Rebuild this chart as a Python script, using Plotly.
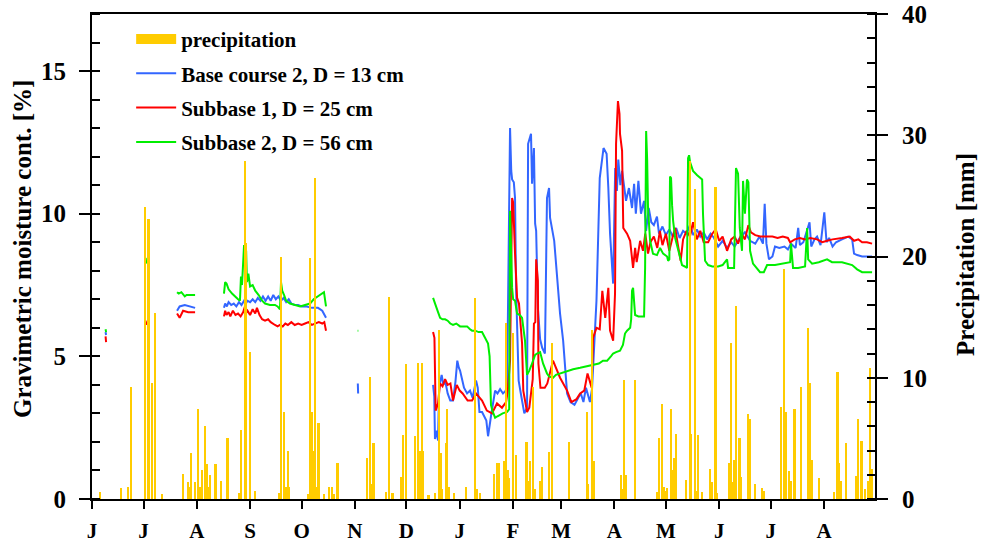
import pandas as pd
import plotly.graph_objects as go

# Record starts on 1 June; all positions below are days since then.
START = pd.Timestamp("2001-06-01")
END_DAY = 455.7

month_days = [0, 30, 61, 92, 122, 153, 183, 214, 245, 273, 304, 334, 365, 395, 426]
month_labels = ["J", "J", "A", "S", "O", "N", "D", "J", "F", "M", "A", "M", "J", "J", "A"]

# Daily precipitation [mm]
precip_day = [5, 17, 21, 23, 31, 33, 35, 37, 41, 53, 56, 57, 58, 60, 62, 63, 64, 66, 67, 68,
              69, 72, 75, 79, 86, 87, 89, 90, 92, 95, 109, 110, 112, 113, 114, 115, 126, 127,
              128, 129, 130, 131, 132, 135, 138, 140, 141, 143, 160, 162, 163, 164, 171, 173,
              175, 180, 181, 183, 188, 190, 191, 192, 193, 196, 200, 202, 203, 204, 206, 207,
              208, 211, 218, 223, 224, 226, 234, 236, 237, 240, 241, 242, 243, 245, 247, 253,
              254, 255, 257, 258, 261, 262, 266, 268, 278, 288, 289, 291, 292, 308, 309, 310,
              311, 316, 329, 330, 332, 333, 334, 335, 337, 338, 339, 340, 346, 348, 349, 351,
              352, 353, 355, 360, 361, 363, 364, 371, 372, 373, 374, 375, 377, 378, 382, 383,
              386, 390, 391, 401, 403, 404, 406, 407, 409, 413, 417, 418, 419, 423, 432, 434,
              435, 436, 439, 445, 446, 448, 450, 452, 453, 454]
precip_mm = [0.6, 0.9, 1.0, 9.2, 24.1, 23.1, 9.6, 15.3, 0.4, 2.1, 1.4, 1.0, 3.8, 1.4, 7.4, 1.0,
             2.4, 6.0, 2.9, 1.0, 2.0, 2.9, 1.5, 5.0, 0.5, 5.7, 27.9, 21.1, 12.1, 0.7, 0.5, 20.0,
             7.2, 1.0, 4.0, 1.0, 0.4, 19.9, 7.2, 4.0, 26.5, 1.0, 6.3, 0.4, 1.0, 1.0, 0.4, 3.0,
             3.4, 10.1, 1.2, 4.6, 0.6, 16.7, 0.5, 1.8, 5.3, 11.1, 5.2, 11.2, 4.0, 11.2, 4.0, 0.3,
             0.5, 13.9, 3.8, 0.8, 4.6, 7.4, 1.0, 0.5, 1.0, 16.6, 0.8, 0.5, 2.1, 3.0, 3.0, 3.1,
             14.5, 2.4, 1.7, 13.7, 3.6, 4.7, 1.5, 3.1, 9.2, 0.8, 1.5, 2.6, 3.9, 12.9, 4.7, 7.2,
             1.2, 13.9, 3.1, 2.0, 0.8, 9.8, 2.0, 9.8, 0.6, 5.0, 7.8, 1.0, 0.7, 0.9, 7.4, 2.4,
             3.4, 5.4, 1.6, 27.9, 5.4, 25.6, 0.7, 5.3, 0.6, 2.5, 1.4, 25.7, 0.5, 3.0, 12.9, 1.4,
             3.2, 15.9, 5.0, 1.8, 7.0, 6.6, 1.2, 0.9, 0.7, 7.6, 19.0, 7.2, 2.3, 1.5, 7.4, 9.2,
             14.1, 9.6, 3.2, 1.7, 0.6, 10.5, 3.0, 1.5, 4.6, 1.9, 6.6, 4.8, 0.8, 1.5, 10.8, 2.5]

# Base course 2, D = 13 cm  (None = no readings)
base2_day = [7.9, 8.2, None, 31.2, 31.6, None, 49.5, 51, 54, 57, 60, None,
             76.8, 77.5, 78.5, 79.5, 81, 82.5, 84, 85.5, 87, 88.5, 89.5, 90.5, 92, 93.5, 95,
             96.5, 98, 99.5, 101, 102.5, 104, 105.5, 107, 108.5, 110, 111.5, 113, 114.5, 116,
             118, 120, 122, 125, 128, 131.5, 134, 136.2, None, 154.7, 154.9, None,
             198.5, 199.2, 199.6, 200.5, 201.4, 202.0, 203.5, 204.5, 205.5, 207, 208.5, 210.1,
             211.5, 212.6, 213.5, 214.2, 216.5, 218.3, 220, 221.5, 223.5, 224.5, 225.5, 227,
             229.5, 230.5, 232.2, 234.6, 236, 237.5, 239.2, 240.8, 241.6, 242.5, 243.3, 244,
             244.5, 245.5, 246.2, 246.8, 247.4, 248.3, 250, 251.6, 253.2, 253.8, 255.5, 256.1,
             257.2, 257.9, 258.5, 259.5, 260.8, 262, 263.6, 264.8, 266, 266.6, 269, 270.5,
             272.4, 274.2, 276.5, 278.5, 280.8, 283, 284.5, 286, 287.5, 289.8, 291, 293.6,
             295.5, 297.7, 299.5, 300.5, 301.5, 303.3, 304.5, 305.5, 306.3, 307.5, 308.5,
             310.8, 312.5, 314.3, 315.5, 316.5, 318, 319.5, 321.3, 322.5, 324, 325.5, 327,
             328.8, 330, 332, 334, 336, 338, 340, 342, 344, 346, 348, 350, 352, 354, 356, 358,
             360, 362, 364.4, 367, 369.6, 372, 374, 377, 380, 383, 386, 388.5, 390.5, 391.5,
             392.5, 394, 396, 397.5, 400, 403, 405, 406.8, 409.5, 411, 412, 414, 417.6, 418.6,
             420.5, 422, 424, 425.5, 426.2, 427.5, 429, 431, 433, 436.5, 440, 442.4, 443.5,
             445.3, 448.2, 451, 454.0]
base2_val = [5.85, 5.75, None, 6.2, 6.15, None, 6.6, 6.75, 6.8, 6.75, 6.7, None,
             6.7, 6.85, 6.75, 6.9, 6.8, 6.85, 6.75, 6.9, 6.8, 6.95, 6.85, 6.95, 6.9, 7.0, 6.9,
             7.05, 6.95, 7.1, 6.95, 7.1, 6.95, 7.15, 7.0, 7.1, 6.95, 7.05, 6.9, 7.0, 6.85,
             6.8, 6.8, 6.75, 6.75, 6.7, 6.7, 6.6, 6.35, None, 4.05, 3.7, None,
             4.0, 3.6, 2.1, 2.4, 2.05, 3.9, 4.35, 4.0, 4.15, 3.7, 3.45, 3.45,
             4.1, 4.85, 4.6, 4.5, 3.9, 3.7, 3.8, 3.55, 4.15, 3.9, 3.05, 3.05,
             2.75, 2.2, 2.9, 3.8, 3.7, 3.85, 3.7, 3.8, 4.0, 9.05, 13.0, 11.5,
             11.2, 11.1, 10.55, 7.4, 5.8, 4.15, 3.55, 3.0, 3.2, 12.45, 12.8, 11.05,
             12.3, 9.65, 9.4, 6.7, 5.6, 5.3, 5.1, 10.55, 10.9, 9.85, 9.05, 7.9,
             6.5, 5.55, 3.7, 3.4, 3.3, 3.55, 3.7, 3.4, 3.9, 3.4, 3.85, 6.95,
             11.25, 12.3, 12.1, 10.9, 9.3, 7.55, 11.6, 10.8, 11.9, 11.0, 11.5,
             10.45, 10.9, 10.2, 11.05, 10.0, 11.15, 10.0, 10.45, 9.4, 10.2, 9.7, 9.6,
             9.9, 9.3, 9.55, 9.25, 9.45, 9.2, 9.5, 9.15, 9.4, 9.3, 9.6, 9.25, 9.45, 9.2, 9.35, 9.1,
             9.3, 9.15, 8.85, 9.05, 8.8, 9.0, 8.85, 9.15, 9.35, 9.05, 8.95, 9.2, 8.95, 10.35,
             8.95, 8.4, 8.5, 8.85, 8.8, 8.85, 8.75, 8.95, 8.8, 9.5, 8.9, 9.0, 9.7, 8.85,
             9.1, 9.2, 8.9, 9.7, 10.05, 9.0, 9.15, 8.85, 9.0, 9.1, 9.2, 9.1, 8.6,
             8.55, 8.5, 8.5, 8.5]

# Subbase 1, D = 25 cm
sub1_day = [7.9, 8.2, None, 31.2, 31.6, None, 49.5, 51, 53, 56, 60, None,
            76.8, 77.5, 78.3, 79.5, 80.5, 82, 83.5, 85, 86.5, 88, 89, 89.5, 90.5, 92, 93.5,
            95, 96, 97.5, 99, 100.7, 102.5, 104, 106.5, 108, 109.4, 111, 112.5, 114, 116, 118,
            120, 122, 124, 126, 128, 130, 132, 134, 135.2, 136.2, None,
            198.5, 199.3, 200, 201.4, 202.6, 204, 205.5, 207, 208.6, 210.1, 212.3, 214, 215.7,
            218.6, 221.2, 223.5, 227, 229.8, 232.8, 235.7, 238.6, 241.0, 242, 243.3, 244.5,
            245.1, 246.2, 247.4, 248.5, 250.3, 251, 253.2, 254.5, 255.5, 256.5, 257.2, 258,
            258.5, 259.5, 259.8, 261, 263.5, 265, 268.3, 270.5, 272.4, 276.5, 279, 282, 284.1,
            286.5, 288.4, 290.8, 291.6, 293.6, 295.5, 297, 298.7, 300.5, 301.5, 303.3, 304.4,
            305, 306.1, 307, 307.3, 308.5, 309.2, 311.4, 313.2, 314.9, 316.1, 317, 319, 320.7,
            322, 323.6, 325, 327, 329, 330.5, 332, 334, 336, 338, 339.4, 341, 342.6, 344, 346,
            348, 349.8, 352, 354, 356, 358.6, 361, 363, 365, 367, 369.6, 372, 374, 376, 378,
            380, 382, 383.5, 386, 389, 392.9, 396, 399, 402, 405, 406.3, 409, 412, 415, 418,
            422, 425, 427.8, 431, 436.5, 441, 443.5, 446, 448.2, 451, 454.0]
sub1_val = [5.7, 5.5, None, 6.25, 6.1, None, 6.5, 6.35, 6.6, 6.55, 6.55, None,
            6.4, 6.6, 6.45, 6.55, 6.4, 6.6, 6.45, 6.5, 6.4, 6.55, 6.75, 6.5, 6.6, 6.45, 6.65,
            6.5, 6.7, 6.45, 6.3, 6.25, 6.3, 6.2, 6.1, 6.05, 6.1, 6.05, 6.15, 6.1, 6.2, 6.1,
            6.15, 6.1, 6.15, 6.2, 6.1, 6.15, 6.2, 6.15, 6.2, 5.9, None,
            5.85, 5.65, 3.1, 3.35, 4.05, 3.95, 4.2, 4.0, 4.05, 3.45, 4.0, 3.8, 3.7,
            3.45, 3.45, 3.7, 3.45, 3.1, 3.0, 3.35, 3.2, 3.4, 3.8, 4.85, 10.55,
            10.4, 8.6, 7.05, 6.85, 5.45, 3.8, 3.05, 3.2, 3.8, 4.2, 6.15, 6.2,
            8.4, 7.65, 4.75, 3.9, 3.9, 4.05, 4.85, 4.5, 4.25, 3.8, 3.4, 3.5, 3.7,
            3.8, 4.4, 3.9, 5.65, 6.0, 5.95, 7.3, 6.35, 7.4, 5.9, 5.55, 7.2,
            12.45, 13.95, 13.5, 12.8, 12.2, 9.5, 9.3, 9.05, 8.1, 8.8, 8.3, 9.05, 8.7,
            9.3, 8.6, 9.0, 9.2, 8.8, 9.4, 8.9, 9.3, 8.7, 9.2, 9.5, 8.9, 8.35, 9.1, 9.4,
            9.2, 9.7, 9.1, 9.4, 9.0, 9.0, 9.3, 9.45, 9.05, 9.2, 8.7, 9.1, 9.2, 8.95, 9.3,
            9.1, 9.6, 9.35, 9.25, 9.2, 9.2, 9.2, 9.15, 9.2, 9.15, 9.0, 9.1, 9.15, 9.1, 9.15,
            9.1, 9.0, 9.05, 9.1, 9.15, 9.2, 9.05, 9.1, 9.0, 9.0, 8.95]

# Subbase 2, D = 56 cm
sub2_day = [7.9, 8.2, None, 31.2, 31.6, None, 49.5, 50.5, 52, 54, 55, 57, 60, None,
            76.8, 77.5, 78.3, 79.5, 81.5, 83, 85, 86.1, 86.7, 87.3, 88, 88.5, 89.1, 89.7, 90.2,
            91, 92, 93.5, 95, 97, 99, 100.7, 103.6, 106.5, 108, 109.4, 110, 110.7, 111.8, 113,
            115.2, 118.2, 121.1, 124, 126.9, 129, 131.5, 134, 135, 136.2, None,
            154.6, 155.0, None,
            198.5, 199.5, 200.5, 201.4, 202.6, 204, 205.5, 207, 208.5, 210.1, 212, 214.2, 216,
            218.3, 220, 221.2, 223, 225, 227, 229, 230.5, 231.4, 231.7, 232.2, 233, 234.6, 236,
            237.5, 239, 241.6, 242.8, 243.3, 243.9, 244.5, 245.1, 246.2, 247.4, 249, 250.3, 251,
            252, 253.2, 254.5, 256.1, 257.9, 259, 260.8, 262.5, 264.8, 266, 268.3, 270, 272.4,
            276.5, 280, 284.1, 288, 291.6, 295, 297.4, 299.8, 302, 303.3, 305, 307.3, 309,
            310.2, 311.4, 313.2, 313.8, 314.3, 314.9, 315.5, 316.1, 318, 320.1, 321.3, 321.9,
            322.5, 323.1, 323.6, 324.8, 326.5, 328.8, 330.6, 332.4, 334.7, 335.3, 336.0, 336.4,
            337, 337.6, 338.2, 339.4, 341.1, 343.4, 345, 346.3, 346.9, 347.5, 348.1, 349.8,
            352.2, 355.1, 355.6, 356.8, 358.6, 361, 364.4, 367, 369.6, 370.2, 373.7, 374.8,
            376.0, 377, 378.3, 378.9, 380, 381.2, 382, 383.0, 384.7, 388.8, 391, 392.9, 397.5,
            402, 406.3, 406.8, 408.0, 411, 415.0, 416.2, 416.8, 419.1, 423, 427.8, 430.7,
            436.5, 442.4, 445.3, 448.2, 451, 454.0]
sub2_val = [5.95, 5.85, None, 8.45, 8.25, None, 7.25, 7.2, 7.25, 7.1, 7.15, 7.15, 7.15, None,
            7.2, 7.6, 7.55, 7.35, 7.2, 7.1, 7.0, 6.95, 7.8, 7.5, 8.3, 8.9, 8.4, 8.7, 7.6,
            7.9, 7.45, 7.5, 7.3, 7.15, 6.95, 6.85, 6.8, 6.8, 6.75, 6.65, 7.6, 7.3, 7.15, 6.95,
            6.85, 6.8, 6.75, 6.8, 6.85, 7.0, 7.1, 7.2, 7.25, 6.75, None,
            5.9, 5.9, None,
            7.05, 6.9, 6.7, 6.55, 6.35, 6.3, 6.3, 6.25, 6.15, 6.1, 6.15, 6.05, 6.05,
            6.05, 5.95, 5.9, 5.9, 5.85, 5.85, 5.65, 5.45, 5.0, 4.25, 3.3, 3.1, 2.85, 2.9,
            2.95, 3.0, 3.05, 3.15, 10.1, 8.0, 7.4, 7.0, 6.95, 6.5, 6.45, 6.35, 6.0,
            5.55, 4.35, 4.5, 4.75, 5.05, 5.1, 5.15, 4.75, 4.4, 4.3, 4.25, 4.35, 4.4,
            4.5, 4.55, 4.6, 4.65, 4.7, 4.75, 4.85, 4.85, 5.0, 5.1, 5.15, 5.2, 5.4,
            5.8, 5.9, 6.0, 6.3, 7.3, 7.4, 6.8, 6.45, 6.4, 6.4, 6.4, 8.1,
            12.9, 11.9, 10.2, 9.05, 8.6, 8.55, 8.8, 8.6, 8.5, 8.35, 8.4, 11.3,
            11.25, 10.3, 9.75, 9.15, 8.7, 8.2, 8.15, 8.1, 11.95, 12.05, 11.8, 11.5,
            11.35, 11.2, 10.0, 8.35, 8.2, 8.15, 8.15, 8.2, 8.4, 8.1, 8.1, 11.6,
            11.4, 9.5, 8.7, 11.15, 10.0, 11.2, 11.1, 8.7, 8.25, 7.95, 7.95, 8.2, 8.2,
            8.25, 8.3, 8.95, 8.1, 8.1, 8.15, 9.5, 8.4, 8.25, 8.3, 8.4, 8.3,
            8.3, 8.2, 8.05, 7.95, 7.95, 7.95]

left_title = "Gravimetric moisture cont. [%]"
right_title = "Precipitation [mm]"


def to_dates(days):
    return [None if d is None else START + pd.Timedelta(days=d) for d in days]


SERIF = "Liberation Serif"
BLACK = "#000000"
fig = go.Figure()

line_series = [
    ("Base course 2, D = 13 cm", base2_day, base2_val, "#3366FF"),
    ("Subbase 1, D = 25 cm", sub1_day, sub1_val, "#FF0000"),
    ("Subbase 2, D = 56 cm", sub2_day, sub2_val, "#00EE00"),
]

# legend entry for the precipitation bars (wide swatch)
fig.add_trace(go.Scatter(
    x=[None], y=[None], mode="lines", name="precipitation",
    line=dict(color="#FFCC00", width=14), legendgroup="p", yaxis="y2"))

for name, d, v, c in line_series:
    fig.add_trace(go.Scatter(
        x=to_dates(d), y=v, mode="lines", name=name, legendgroup=name,
        line=dict(color=c, width=2), connectgaps=False))

fig.add_trace(go.Bar(
    x=to_dates(precip_day), y=precip_mm, yaxis="y2", name="precipitation",
    marker=dict(color="#FFCC00", line=dict(width=0)), width=0.95 * 86400000,
    showlegend=False))

bold = dict(family=SERIF, color=BLACK, weight="bold")

# plot area in pixels
L, R, T, B = 92, 106, 14, 47
PLOT_W, PLOT_H = 981 - L - R, 546 - T - B

fig.update_layout(
    width=981, height=546,
    margin=dict(l=L, r=R, t=T, b=B),
    paper_bgcolor="white", plot_bgcolor="white",
    font=dict(family=SERIF, color=BLACK),
    showlegend=True,
    legend=dict(x=0.05, y=0.99, xanchor="left", yanchor="top", itemwidth=40,
                bgcolor="rgba(0,0,0,0)", traceorder="grouped", tracegroupgap=4,
                font=dict(size=21, **bold)),
    bargap=0,
    xaxis=dict(
        type="date", automargin=False,
        range=[START, START + pd.Timedelta(days=END_DAY)],
        tickvals=to_dates(month_days), ticktext=month_labels,
        ticks="outside", ticklen=8, tickwidth=2, tickcolor=BLACK, ticklabelstandoff=4,
        showline=True, linewidth=2, linecolor=BLACK, mirror=True,
        showgrid=False, zeroline=False,
        tickfont=dict(size=21, **bold),
    ),
    yaxis=dict(
        range=[0, 17], tickvals=[0, 5, 10, 15], automargin=False,
        ticks="outside", ticklen=11, tickwidth=2, tickcolor=BLACK, ticklabelstandoff=8,
        minor=dict(dtick=1, ticks="inside", ticklen=8, tickwidth=1.5, tickcolor=BLACK,
                   showgrid=False),
        showline=True, linewidth=2, linecolor=BLACK,
        showgrid=False, zeroline=False,
        tickfont=dict(size=25, **bold),
    ),
    yaxis2=dict(
        range=[0, 40], tickvals=[0, 10, 20, 30, 40], automargin=False,
        overlaying="y", side="right", ticklabelstandoff=9, ticklabeloverflow="allow",
        ticks="outside", ticklen=11, tickwidth=2, tickcolor=BLACK,
        minor=dict(dtick=2, ticks="inside", ticklen=8, tickwidth=1.5, tickcolor=BLACK,
                   showgrid=False),
        showline=True, linewidth=2, linecolor=BLACK,
        showgrid=False, zeroline=False,
        tickfont=dict(size=25, **bold),
    ),
    annotations=[
        dict(text=left_title, textangle=-90, x=(22 - L) / PLOT_W, y=(546 - B - 249) / PLOT_H,
             xref="paper", yref="paper", xanchor="center", yanchor="middle",
             showarrow=False, font=dict(size=25, **bold)),
        dict(text=right_title, textangle=-90, x=(965 - L) / PLOT_W, y=(546 - B - 255) / PLOT_H,
             xref="paper", yref="paper", xanchor="center", yanchor="middle",
             showarrow=False, font=dict(size=25, **bold)),
    ],
)

fig.write_html("out.html")
